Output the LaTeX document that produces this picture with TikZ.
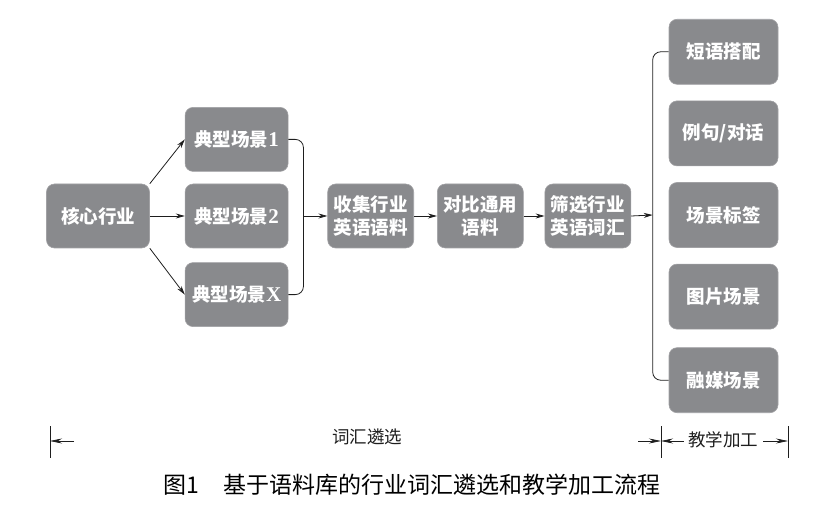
\documentclass[tikz,border=0pt]{standalone}
\usepackage{fontspec}
\usepackage{tikz}
\usetikzlibrary{arrows.meta, positioning, calc}
\newfontfamily\cjk{Noto Sans CJK SC}
\newfontfamily\latn{Liberation Serif}
\definecolor{boxGray}{HTML}{898A8D}
\definecolor{lineDark}{HTML}{1E1E1E}
\newcommand{\boxnum}[1]{{\latn\bfseries\fontsize{21bp}{23bp}\selectfont #1}}

\begin{document}
\begin{tikzpicture}[x=1bp, y=-1bp,
  box/.style={fill=boxGray, draw=boxGray!80!white, line width=0.6bp, rounded corners=8bp,
              align=center, text=white, inner sep=0pt,
              font=\cjk\bfseries\fontsize{18.5bp}{23bp}\selectfont,
              minimum height=64bp, minimum width=#1},
  box/.default=103bp,
  flow/.style={-{Stealth[length=9bp, width=5bp]}, line width=0.8bp, draw=lineDark},
  brace/.style={line width=0.8bp, draw=lineDark, rounded corners=8bp},
  dim/.style={-{Stealth[length=12bp, width=5bp]}, line width=0.7bp, draw=lineDark},
  tick/.style={line width=0.7bp, draw=lineDark}
]
  \useasboundingbox (0,0) rectangle (838,509);

  % vocabulary selection
  \node[box] (core) at (98,216) {核心行业};
  \node[box, right=35bp of core] (scene2) {典型场景\boxnum{2}};
  \node[box, above=12bp of scene2] (scene1) {典型场景\boxnum{1}};
  \node[box, below=14bp of scene2] (sceneX) {典型场景\boxnum{X}};
  \node[box=86bp, right=39bp of scene2] (collect) {收集行业\\英语语料};
  \node[box=86bp, right=23bp of collect] (compare) {对比通用\\语料};
  \node[box=86bp, right=21bp of compare] (filter) {筛选行业\\英语词汇};

  % teaching processing
  \node[box=109bp, minimum height=65bp] (use3) at (723.5,215) {场景标签};
  \node[box=109bp, minimum height=65bp, above=16bp of use3] (use2) {例句/对话};
  \node[box=109bp, minimum height=65bp, above=16bp of use2] (use1) {短语搭配};
  \node[box=109bp, minimum height=65bp, below=16bp of use3] (use4) {图片场景};
  \node[box=109bp, minimum height=65bp, below=18bp of use4] (use5) {融媒场景};

  \draw[flow] (core.north east) -- (scene1.west);
  \draw[flow] (core.east) -- (scene2.west);
  \draw[flow] (core.south east) -- (sceneX.west);

  \coordinate (joinL) at ($(scene2.east)+(15,0)$);
  \draw[brace] (scene1.east) -| (joinL) |- (sceneX.east);
  \draw[flow] (joinL) -- (collect.west);
  \draw[flow] (collect) -- (compare);
  \draw[flow] (compare) -- (filter);

  \coordinate (joinR) at ($(use3.west)+(-16,0)$);
  \draw[brace] (use1.west) -| (joinR) |- (use5.west);
  \draw[flow] (filter.east) -- (joinR);

  % stage spans
  \coordinate (tickL) at (50,441);
  \coordinate (tickM) at (661,441);
  \coordinate (tickR) at (788,441);
  \foreach \t in {tickL, tickM, tickR}
    \draw[tick] ($(\t)+(0,-15)$) -- ($(\t)+(0,17)$);
  \node[font=\cjk\fontsize{17.5bp}{20bp}\selectfont, text=lineDark] (stage1) at (367,437) {词汇遴选};
  \node[font=\cjk\fontsize{17.5bp}{20bp}\selectfont, text=lineDark, inner sep=0pt] (stage2) at (723,440) {教学加工};
  \coordinate (s1a) at (74,441);
  \coordinate (s1b) at (638,441);
  \coordinate (s2a) at ($(stage2.west)+(-4,1)$);
  \coordinate (s2b) at ($(stage2.east)+(5,1)$);
  \draw[dim] (s1a) -- (tickL);
  \draw[dim] (s1b) -- (tickM);
  \draw[dim] (s2a) -- (tickM);
  \draw[dim] (s2b) -- (tickR);

  \node[font=\cjk\fontsize{23bp}{26bp}\selectfont] (caption) at (412,485) {图1\hspace{25bp}基于语料库的行业词汇遴选和教学加工流程};
\end{tikzpicture}
\end{document}
